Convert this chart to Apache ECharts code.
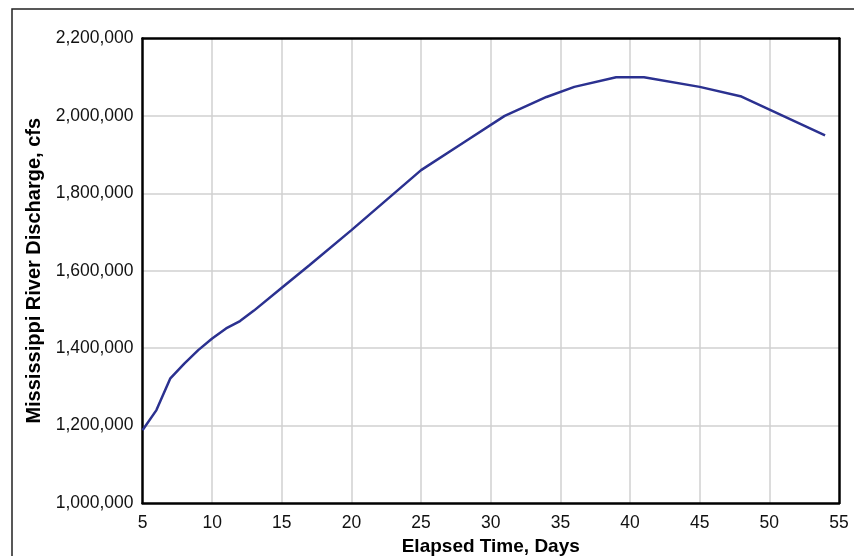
<!DOCTYPE html>
<html>
<head>
<meta charset="utf-8">
<script src="https://cdn.jsdelivr.net/npm/echarts@6/dist/echarts.min.js"></script>
<style>
  html, body { margin: 0; padding: 0; background: #fff; }
  #chart { width: 854px; height: 556px; }
</style>
</head>
<body>
<div id="chart"></div>
<script>
// elapsed time (days) and discharge (cfs)
const days = [5, 6, 7, 8, 9, 10, 11, 12, 13, 15, 17, 20, 25, 28, 31, 34, 36, 39, 41, 45, 48, 54]
const discharge = [1188000, 1240000, 1322000, 1360000, 1395000, 1425000, 1451000, 1470000, 1497000, 1556000, 1615000, 1705000, 1860000, 1930000, 2000000, 2049000, 2075000, 2100000, 2100000, 2075000, 2050000, 1950000]

const chart = echarts.init(document.getElementById('chart'))

const fontFamily = 'Arial, "Liberation Sans", sans-serif'
const frameLine = { show: true, lineStyle: { color: '#000', width: 2.5 } }
const gridLine = { showMinLine: false, showMaxLine: false, lineStyle: { color: '#d0d0d0', width: 1.5 } }

chart.setOption({
  animation: false,
  graphic: [{
    type: 'rect',
    shape: { x: 12, y: 9, width: 850, height: 560 },
    style: { fill: 'none', stroke: '#222', lineWidth: 1.5 },
    silent: true
  }],
  grid: {
    left: 142.5,
    right: 15,
    top: 38.5,
    bottom: 53,
    outerBoundsMode: 'none'
  },
  xAxis: [{
    type: 'value',
    min: 5,
    max: 55,
    interval: 5,
    name: 'Elapsed Time, Days',
    nameLocation: 'middle',
    nameGap: 31,
    nameTextStyle: { color: '#000', fontSize: 19, fontWeight: 'bold', fontFamily },
    axisLine: frameLine,
    axisTick: { show: false },
    axisLabel: { color: '#111', fontSize: 17.5, fontFamily, margin: 11 },
    splitLine: gridLine
  }, {
    type: 'value',
    position: 'top',
    min: 5,
    max: 55,
    axisLine: frameLine,
    axisTick: { show: false },
    axisLabel: { show: false },
    splitLine: { show: false },
    z: 2
  }],
  yAxis: [{
    type: 'value',
    min: 1000000,
    max: 2200000,
    interval: 200000,
    name: 'Mississippi River Discharge, cfs',
    nameLocation: 'middle',
    nameGap: 98,
    nameTextStyle: { color: '#000', fontSize: 20, fontWeight: 'bold', fontFamily },
    axisLine: frameLine,
    axisTick: { show: false },
    axisLabel: {
      color: '#111',
      fontSize: 17.5,
      fontFamily,
      margin: 9,
      formatter: v => v.toLocaleString('en-US')
    },
    splitLine: gridLine,
    z: 2
  }, {
    type: 'value',
    position: 'right',
    min: 1000000,
    max: 2200000,
    axisLine: frameLine,
    axisTick: { show: false },
    axisLabel: { show: false },
    splitLine: { show: false },
    z: 2
  }],
  series: [{
    type: 'line',
    data: days.map((d, i) => [d, discharge[i]]),
    showSymbol: false,
    lineStyle: { color: '#2b3190', width: 2.5 },
    z: 3
  }]
})
</script>
</body>
</html>
